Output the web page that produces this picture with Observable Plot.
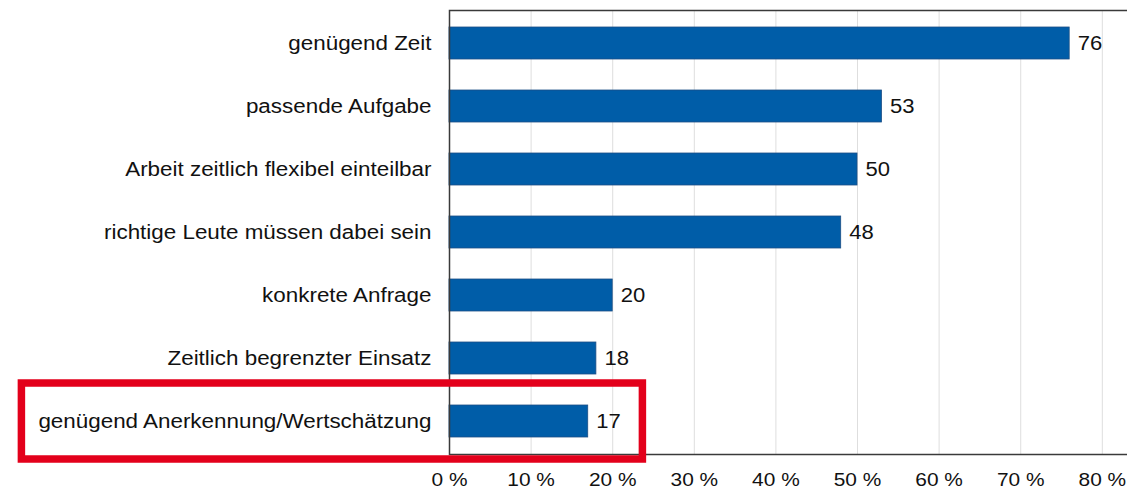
<!DOCTYPE html>
<html>
<head>
<meta charset="utf-8">
<script src="https://cdn.jsdelivr.net/npm/d3@7"></script>
<script src="https://cdn.jsdelivr.net/npm/@observablehq/plot@0.6"></script>
<style>
  html, body { margin: 0; padding: 0; background: #fff; }
  #chart svg { display: block; font-family: "Liberation Sans", Arial, sans-serif; }
</style>
</head>
<body>
<div id="chart"></div>
<script>
// ---- data ----
const categories = [
  "genügend Zeit",
  "passende Aufgabe",
  "Arbeit zeitlich flexibel einteilbar",
  "richtige Leute müssen dabei sein",
  "konkrete Anfrage",
  "Zeitlich begrenzter Einsatz",
  "genügend Anerkennung/Wertschätzung"
];
const values = [76, 53, 50, 48, 20, 18, 17];
const xTicks = [0, 10, 20, 30, 40, 50, 60, 70, 80];
const gridTicks = [10, 20, 30, 40, 50, 60, 70, 80];
const highlightCategory = "genügend Anerkennung/Wertschätzung";
const highlightFrom = -52.4;  // in % units along x, extends into the label area
const highlightTo = 23.7;

const data = categories.map((c, i) => ({category: c, value: values[i]}));
const highlight = [{category: highlightCategory, x1: highlightFrom, x2: highlightTo}];

const plot = Plot.plot({
  width: 1127,
  height: 492,
  marginLeft: 449,
  marginRight: -2,
  marginTop: 10,
  marginBottom: 38,
  style: {fontFamily: "Liberation Sans, Arial, sans-serif", color: "#111", background: "#fff"},
  x: {domain: [0, 83.33], ticks: xTicks, tickFormat: d => d + " %"},
  y: {domain: categories, paddingInner: 0.5, paddingOuter: 0.25},
  marks: [
    Plot.ruleX(gridTicks, {stroke: "#dedede", strokeWidth: 1}),
    Plot.barX(data, {x: "value", y: "category", fill: "#005DA8", stroke: "#1d4f85", strokeWidth: 0.8}),
    Plot.text(data, {x: "value", y: "category", text: d => String(d.value), textAnchor: "start", dx: 8, fontSize: 20, fill: "#111"}),
    Plot.frame({stroke: "#3a3a3a", strokeWidth: 1.5}),
    Plot.axisX({ticks: xTicks, tickSize: 0, tickPadding: 18, fontSize: 19, tickFormat: d => d + " %", label: null}),
    Plot.axisY({tickSize: 0, tickPadding: 18, fontSize: 20, label: null, className: "ylab"}),
    Plot.barX(highlight, {x1: "x1", x2: "x2", y: "category", fill: "none", stroke: "#E3001B", strokeWidth: 7.5, insetTop: -22, insetBottom: -22})
  ]
});

document.getElementById("chart").append(plot);

// Horizontal stretch of text to match the reference's wide glyphs
plot.querySelectorAll("text").forEach(t => {
  const len = t.getComputedTextLength();
  if (len > 0) {
    const isCat = categories.includes(t.textContent);
    t.setAttribute("textLength", (len * (isCat ? 1.12 : 1.1)).toFixed(1));
    t.setAttribute("lengthAdjust", "spacingAndGlyphs");
  }
});
</script>
</body>
</html>
